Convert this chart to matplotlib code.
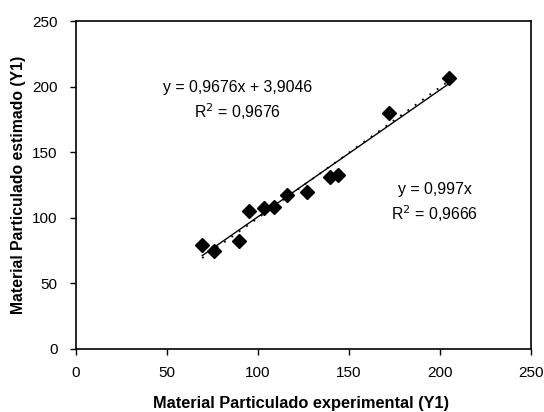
import matplotlib
matplotlib.use("Agg")
import matplotlib.pyplot as plt
import numpy as np

plt.rcParams['font.family'] = ['Liberation Sans', 'DejaVu Sans']

x_exp = [69.5, 75.9, 89.6, 95.1, 103.7, 108.8, 116.0, 127.1, 139.9, 144.3, 171.9, 204.8]
y_est = [79.3, 74.9, 82.5, 105.2, 107.2, 108.2, 117.4, 119.4, 131.3, 132.6, 179.6, 206.3]

slope_lin, icpt_lin = 0.9676, 3.9046
slope_orig = 0.997
eq1 = "y = 0,9676x + 3,9046\nR$^2$ = 0,9676"
eq2 = "y = 0,997x\nR$^2$ = 0,9666"
xlabel = "Material Particulado experimental (Y1)"
ylabel = "Material Particulado estimado (Y1)"
ticks = [0, 50, 100, 150, 200, 250]

fig = plt.figure(figsize=(5.44, 4.12), dpi=100)
ax = fig.add_axes([0.139, 0.153, 0.837, 0.796])

xs = np.array([min(x_exp), max(x_exp)])
ax.plot(xs, slope_lin * xs + icpt_lin, color='black', lw=1.0, zorder=2)
ax.plot(xs, slope_orig * xs, color='black', lw=1.3, ls=(0, (1, 4)), zorder=2)
ax.plot(x_exp, y_est, 'D', color='black', ms=7.5, zorder=3)

ax.set_xlim(0, 250)
ax.set_ylim(0, 250)
ax.set_xticks(ticks)
ax.set_yticks(ticks)
ax.tick_params(direction='out', length=4, width=1, labelsize=11)
ax.tick_params(axis='x', pad=8)
ax.tick_params(axis='y', pad=9)
for s in ax.spines.values():
    s.set_linewidth(1.2)

xl = ax.set_xlabel(xlabel, fontsize=11.8, fontweight='bold')
yl = ax.set_ylabel(ylabel, fontsize=11.3, fontweight='bold')
xl.set_va('center')
yl.set_va('center')
ax.xaxis.set_label_coords(0.495, -0.165)
ax.yaxis.set_label_coords(-0.125, 0.50)

ax.text(89.1, 189.2, eq1, fontsize=11.4, ha='center', va='center', linespacing=1.35, multialignment='center')
ax.text(197.1, 111.3, eq2, fontsize=11.4, ha='center', va='center', linespacing=1.35, multialignment='center')

fig.savefig("out.png", dpi=100, facecolor='white')
